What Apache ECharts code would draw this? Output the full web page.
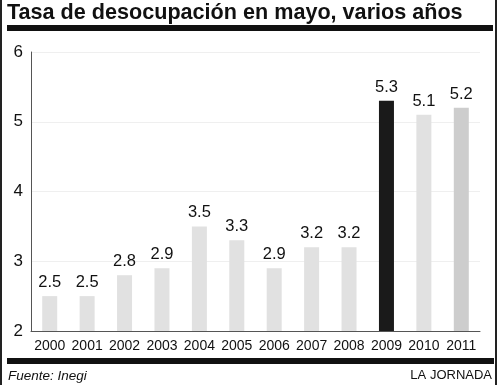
<!DOCTYPE html>
<html><head><meta charset="utf-8">
<script src="https://cdn.jsdelivr.net/npm/echarts@6/dist/echarts.min.js"></script>
<style>html,body{margin:0;padding:0;background:#fff}#c{width:500px;height:385px}</style>
</head><body><div id="c"></div>
<script>
const years = ['2000','2001','2002','2003','2004','2005','2006','2007','2008','2009','2010','2011'];
const rates = [2.5,2.5,2.8,2.9,3.5,3.3,2.9,3.2,3.2,5.3,5.1,5.2];
const barColors = ['#e1e1e1','#e1e1e1','#e1e1e1','#e1e1e1','#e1e1e1','#e1e1e1','#e1e1e1','#e1e1e1','#e1e1e1','#1a1a1a','#e1e1e1','#cdcdcd'];
const yTicks = [2,3,4,5,6];
const titleText = 'Tasa de desocupación en mayo, varios años';
const sourceText = 'Fuente: Inegi';
const creditText = 'LA JORNADA';

const chart = echarts.init(document.getElementById('c'), null, {renderer:'canvas'});
const sans = '"Liberation Sans",Arial,sans-serif';
chart.setOption({
  animation:false,
  title:{text:titleText,left:7,top:2,padding:0,textStyle:{fontFamily:sans,fontWeight:'bold',fontSize:21.6,color:'#111'}},
  grid:{left:31,right:20,top:52,bottom:54},
  xAxis:{type:'category',data:years,
    axisLine:{lineStyle:{color:'#555',width:1}},axisTick:{show:false},
    axisLabel:{fontFamily:sans,fontSize:14,color:'#111',margin:8,interval:0}},
  yAxis:{type:'value',min:yTicks[0],max:yTicks[yTicks.length-1],interval:1,
    axisLine:{show:true,lineStyle:{color:'#555',width:1}},axisTick:{show:false},
    splitLine:{lineStyle:{color:'#efefef',width:1}},
    axisLabel:{fontFamily:sans,fontSize:17,color:'#111',margin:8}},
  series:[{type:'bar',barWidth:15,
    data:rates.map((v,i)=>({value:v,itemStyle:{color:barColors[i]}})),
    label:{show:true,position:'top',distance:5,fontFamily:sans,fontSize:16.5,color:'#111'}}],
  graphic:[
    {type:'rect',shape:{x:0,y:0,width:2,height:385},style:{fill:'#222'}},
    {type:'rect',shape:{x:495,y:0,width:2,height:385},style:{fill:'#222'}},
    {type:'rect',shape:{x:7,y:25,width:486,height:6},style:{fill:'#111'}},
    {type:'rect',shape:{x:7,y:358,width:487,height:6},style:{fill:'#111'}},
    {type:'text',left:8,top:369,style:{text:sourceText,fontFamily:sans,fontStyle:'italic',fontSize:13.5,fill:'#111'}},
    {type:'text',right:8,top:369,style:{text:creditText,fontFamily:sans,fontSize:13,fill:'#111'}}
  ]
});
</script></body></html>
